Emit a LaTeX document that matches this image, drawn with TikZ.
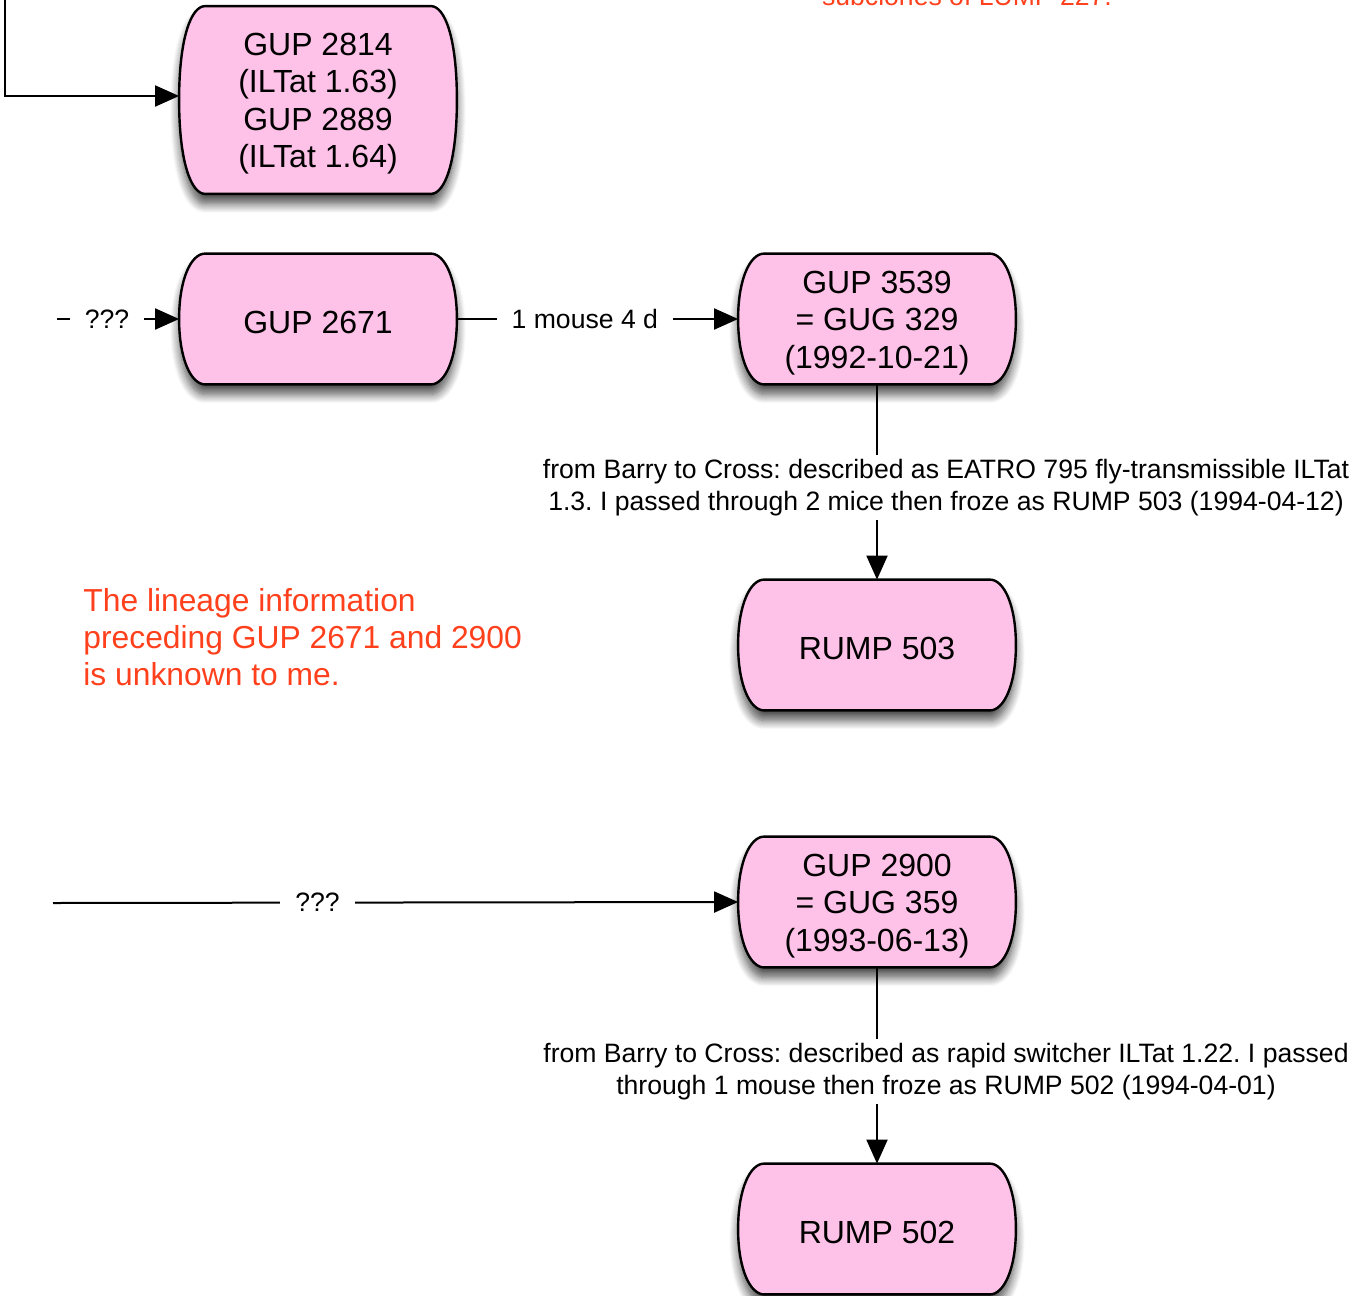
\documentclass[tikz,border=0pt]{standalone}
\usepackage{fontspec}
\setmainfont{Liberation Sans}
\frenchspacing
\usetikzlibrary{arrows.meta,calc,shadows.blur}
\definecolor{boxpink}{RGB}{254,193,231}
\definecolor{notered}{RGB}{255,64,28}
\tikzset{
  pillnode/.style={inner sep=0pt, minimum width=138.5pt, minimum height=65pt, align=center,
    font=\fontsize{16pt}{18.7pt}\selectfont},
  pilltext/.style={pillnode, yshift=-1.9pt},
  pillsty/.style={draw=black, line width=1.2pt, fill=boxpink,
    blur shadow={shadow xshift=0pt, shadow yshift=-5pt, shadow blur steps=10, shadow blur radius=4.5pt, shadow opacity=70}},
  conn/.style={draw=black, line width=1pt, -{Triangle[length=12pt,width=10.5pt,fill=black]}},
  elabel/.style={fill=white, inner xsep=7.5pt, inner ysep=2pt, font=\fontsize{13.3pt}{16pt}\selectfont, align=center},
  rednote/.style={text=notered, font=\fontsize{15.9pt}{18.5pt}\selectfont, align=left, inner sep=0pt}
}
\newcommand\pillpath[2]{%
  \path[pillsty] ($(#1.north west)+(26,0)$) -- ($(#1.north east)+(-26,0)$)
    .. controls +(14,0) and +(0,-#2) .. (#1.east)
    .. controls +(0,#2) and +(14,0) .. ($(#1.south east)+(-26,0)$)
    -- ($(#1.south west)+(26,0)$)
    .. controls +(-14,0) and +(0,#2) .. (#1.west)
    .. controls +(0,-#2) and +(-14,0) .. cycle;}
\begin{document}
\begin{tikzpicture}[x=0.5pt, y=-0.5pt]
\useasboundingbox (0,0) rectangle (1366,1296);
\clip (0,0) rectangle (1366,1296);
% nodes (invisible frames)
\node[pillnode, minimum height=93.5pt] (A) at (318,100) {};
\node[pillnode] (B) at (318,319) {};
\node[pillnode] (C) at (877,319) {};
\node[pillnode] (D) at (877,645) {};
\node[pillnode] (E) at (877,902) {};
\node[pillnode] (F) at (877,1229) {};
% shapes
\pillpath{A}{62}
\pillpath{B}{40}
\pillpath{C}{40}
\pillpath{D}{40}
\pillpath{E}{40}
\pillpath{F}{40}
% texts
\node[pilltext] at (A) {GUP 2814\\(ILTat 1.63)\\GUP 2889\\(ILTat 1.64)};
\node[pilltext] at (B) {GUP 2671};
\node[pilltext] at (C) {GUP 3539\\= GUG 329\\(1992-10-21)};
\node[pilltext] at (D) {RUMP 503};
\node[pilltext] at (E) {GUP 2900\\= GUG 359\\(1993-06-13)};
\node[pilltext] at (F) {RUMP 502};
% free ends
\coordinate (s1) at (5,0);
\coordinate (s2) at (57,319);
\coordinate (s3) at (53,903);
% connectors
\draw[conn] (s1) |- ([yshift=2pt]A.west);
\draw[conn] (s2) -- (B.west) node[elabel, pos=0.41] {???};
\draw[conn] (B.east) -- (C.west) node[elabel, pos=0.455] {1 mouse 4 d};
\draw[conn] (C.south) -- (D.north) node[elabel, pos=0.53, xshift=34.5pt] {from Barry to Cross: described as EATRO 795 fly-transmissible ILTat\\1.3. I passed through 2 mice then froze as RUMP 503 (1994-04-12)};
\draw[conn] (s3) -- (E.west) node[elabel, pos=0.386] {???};
\draw[conn] (E.south) -- (F.north) node[elabel, pos=0.53, xshift=34.5pt] {from Barry to Cross: described as rapid switcher ILTat 1.22. I passed\\through 1 mouse then froze as RUMP 502 (1994-04-01)};
% red notes
\node[rednote, anchor=base west] (note1) at (83,685) {The lineage information\\preceding GUP 2671 and 2900\\is unknown to me.};
\node[rednote, anchor=base, font=\fontsize{13.3pt}{16pt}\selectfont] (note2) at (967,5) {subclones of LUMP 227.};
\end{tikzpicture}
\end{document}
